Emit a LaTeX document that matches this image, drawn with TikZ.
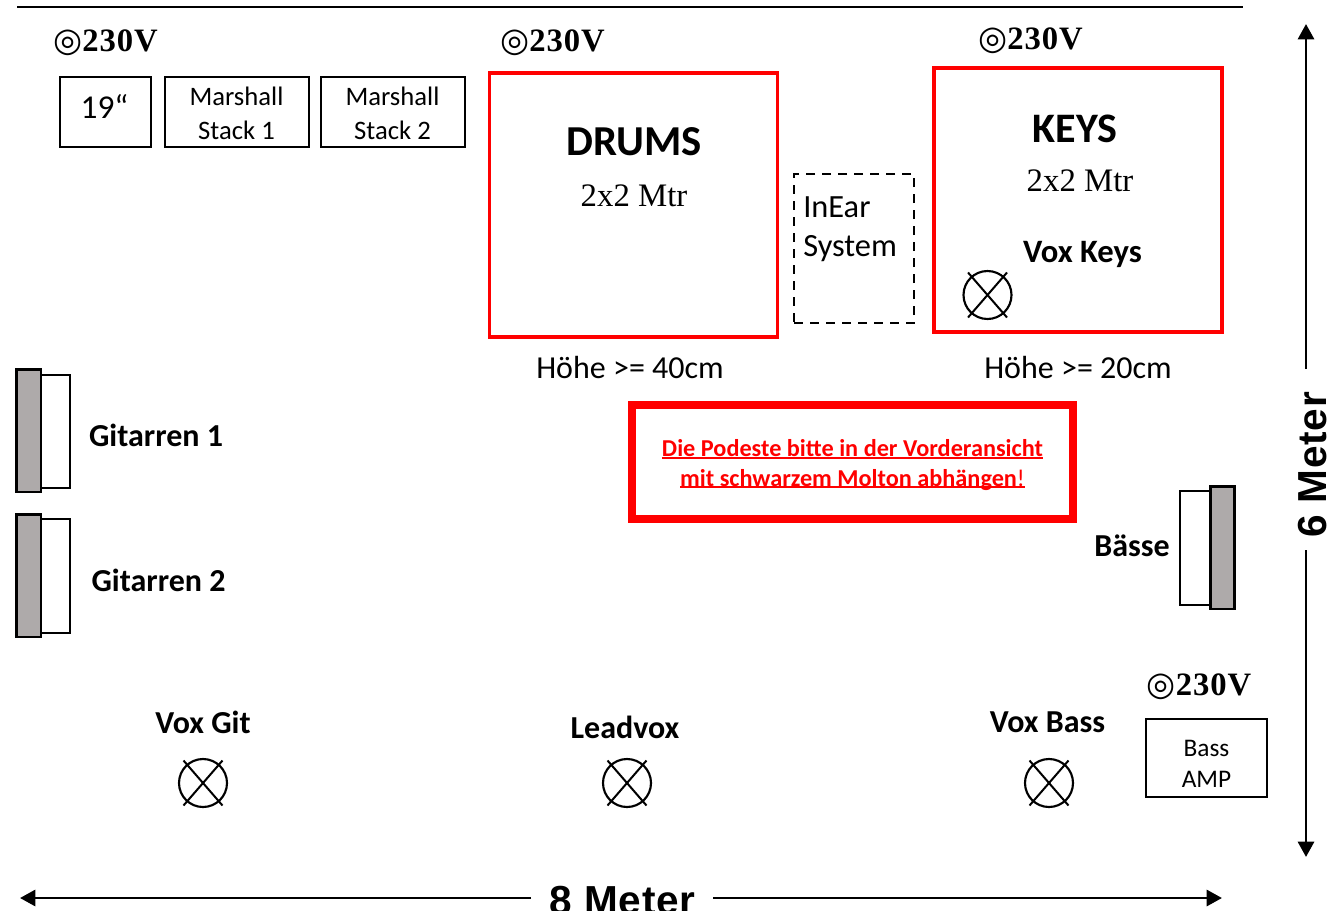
\documentclass[tikz,border=0pt]{standalone}
\usepackage{fontspec}
\usetikzlibrary{arrows.meta}
\setmainfont{Carlito}
\newfontfamily\symfont{DejaVu Sans}
\newfontfamily\voltfont{Liberation Serif}[BoldFont={Liberation Serif Bold},LetterSpace=3]
\newfontfamily\metafont{Liberation Sans}[BoldFont={Liberation Sans Bold},LetterSpace=2]
\newfontfamily\serifx{Liberation Serif}
\newcommand{\pxf}[2]{\fontsize{#1}{#2}\selectfont}
\newcommand{\ulx}[1]{\sbox0{#1}\leavevmode\rlap{\rule[-1.7pt]{\wd0}{1.5pt}}\box0\relax}
\newcommand{\volt}{{\symfont\pxf{25}{27}◎}{\voltfont\bfseries\pxf{24.5}{27}230V}}
\tikzset{
  x=0.75pt,y=-0.75pt,
  blackbox/.style={draw=black,line width=1.5pt*0.75,inner sep=0pt,align=center},
  redbox/.style={draw=red,line width=3.4pt*0.75,inner sep=0pt},
  cab/.style={draw=black,line width=2pt*0.75,fill=white,inner sep=0pt},
  grill/.style={draw=black,line width=2.5pt*0.75,fill=gray1,inner sep=0pt},
  lab/.style={inner sep=0pt,align=center,text=black},
  boldlab/.style={lab,font=\bfseries},
  meas/.style={line width=2.2pt,-{Triangle[length=11.5pt,width=12pt]}},
  micc/.style={circle,draw=black,line width=1.6pt,minimum size=36pt,inner sep=0pt},
  xline/.style={draw=black,line width=1.5pt}
}
\definecolor{gray1}{RGB}{174,170,170}
\begin{document}
\begin{tikzpicture}
\useasboundingbox (0,0) rectangle (1327,910);
\coordinate (tl) at (17,7); \coordinate (tr) at (1243,7);
\draw[line width=1.5pt] (tl) -- (tr);

% 230V labels
\node[lab,anchor=center] (v1) at (105.5,43) {\volt};
\node[lab,anchor=center] (v2) at (552.5,43) {\volt};
\node[lab,anchor=center] (v3) at (1030.5,41) {\volt};
\node[lab,anchor=center] (v4) at (1199,687) {\volt};

% top-left boxes
\node[blackbox,minimum width=68.25pt,minimum height=52.5pt] (rack) at (105.5,112) {};
\node[lab,font=\pxf{25}{30}] (rackt) at (104.5,106) {19“};
\node[blackbox,minimum width=108pt,minimum height=52.5pt] (m1) at (237,112) {};
\node[lab,font=\pxf{20}{25}] (m1t) at (236.5,113.5) {Marshall\\Stack 1};
\node[blackbox,minimum width=108pt,minimum height=52.5pt] (m2) at (393,112) {};
\node[lab,font=\pxf{20}{25}] (m2t) at (392.5,113.5) {Marshall\\Stack 2};

% drums
\node[redbox,minimum width=216.25pt,minimum height=198pt] (drums) at (633.5,205) {};
\node[boldlab,font=\bfseries\pxf{32}{38}] (drumst) at (634,142) {DRUMS};
\node[lab,font=\serifx\pxf{24.6}{28}] (drumss) at (634,196) {2x2 Mtr};
\node[lab,font=\pxf{24}{28}] (drumsh) at (630,367) {Höhe >= 40cm};

% in-ear
\node[draw=black,dash pattern=on 7pt off 5pt,line width=1.7pt,minimum width=90pt,minimum height=111.75pt,inner sep=0pt] (inear) at (854,248.5) {};
\node[lab,font=\pxf{24.3}{29.5},align=left,anchor=west] (ineart) at (803,229) {InEar\\System};

% keys
\node[redbox,minimum width=216pt,minimum height=198pt] (keys) at (1078,200) {};
\node[boldlab,font=\bfseries\pxf{31.5}{38}] (keyst) at (1075,129) {KEYS};
\node[lab,font=\serifx\pxf{24.6}{28}] (keyss) at (1080,181) {2x2 Mtr};
\node[boldlab,font=\bfseries\pxf{24.5}{28}] (voxk) at (1082.5,254) {Vox Keys};
\node[lab,font=\pxf{24}{28}] (keysh) at (1078,367) {Höhe >= 20cm};

% note
\node[draw=red,line width=6pt,minimum width=330.5pt,minimum height=85.5pt,inner sep=0pt] (note) at (852.75,462) {};
\node[lab,text=red,font=\bfseries\pxf{18.2}{22}] (notet) at (852.5,465) {\ulx{Die Podeste bitte in der Vorderansicht}\\\ulx{mit schwarzem Molton abhängen{\mdseries!}}};

% cabinets
\node[cab,minimum width=22pt,minimum height=85pt,anchor=north west] (c1) at (40,374) {};
\node[grill,minimum width=18.5pt,minimum height=92pt,anchor=north west] (g1) at (15,368) {};
\node[boldlab,font=\bfseries\pxf{24}{28}] (l1) at (156,435) {Gitarren 1};
\node[cab,minimum width=22pt,minimum height=85.5pt,anchor=north west] (c2) at (40,518) {};
\node[grill,minimum width=18.5pt,minimum height=92pt,anchor=north west] (g2) at (15,513) {};
\node[boldlab,font=\bfseries\pxf{24}{28}] (l2) at (158.5,580) {Gitarren 2};
\node[cab,minimum width=22.5pt,minimum height=85.5pt,anchor=north west] (c3) at (1179,490) {};
\node[grill,minimum width=18pt,minimum height=92pt,anchor=north west] (g3) at (1209,485) {};
\node[boldlab,font=\bfseries\pxf{24}{28}] (l3) at (1132,546) {Bässe};

% mics
\newcommand{\micsym}[2]{%
  \node[micc] (mic#1) at (#2) {};
  \draw[xline] ([shift={(-19.5,-22.5)}]mic#1.center) -- ([shift={(19.5,22.5)}]mic#1.center);
  \draw[xline] ([shift={(19.5,-22.5)}]mic#1.center) -- ([shift={(-19.5,22.5)}]mic#1.center);
}
\micsym{a}{203,783}
\micsym{b}{627,783}
\micsym{c}{1049,783}
\micsym{d}{987.5,295}
\node[boldlab,font=\bfseries\pxf{24}{28}] (la) at (203,722) {Vox Git};
\node[boldlab,font=\bfseries\pxf{24}{28}] (lb) at (625,727) {Leadvox};
\node[boldlab,font=\bfseries\pxf{24}{28}] (lc) at (1047.5,722) {Vox Bass};

% bass amp
\node[blackbox,minimum width=90.75pt,minimum height=58.5pt] (amp) at (1206.5,758) {};
\node[lab,font=\pxf{19}{23.5}] (ampt) at (1206.5,764) {Bass\\AMP};

% dimension arrows
\node[lab,font=\metafont\bfseries\pxf{30.4}{36},anchor=base] (eight) at (622.5,914) {8 Meter};
\coordinate (hl) at (20,898); \coordinate (hr) at (1222,898);
\coordinate (hls) at (531,898); \coordinate (hrs) at (713,898);
\draw[meas] (hls) -- (hl);
\draw[meas] (hrs) -- (hr);
\node[lab,font=\metafont\bfseries\pxf{30.4}{36},rotate=90,anchor=base] (six) at (1326.5,465) {6 Meter};
\coordinate (vt) at (1306,24); \coordinate (vb) at (1306,857);
\coordinate (vts) at (1306,369); \coordinate (vbs) at (1306,550);
\draw[meas] (vts) -- (vt);
\draw[meas] (vbs) -- (vb);
\end{tikzpicture}
\end{document}
